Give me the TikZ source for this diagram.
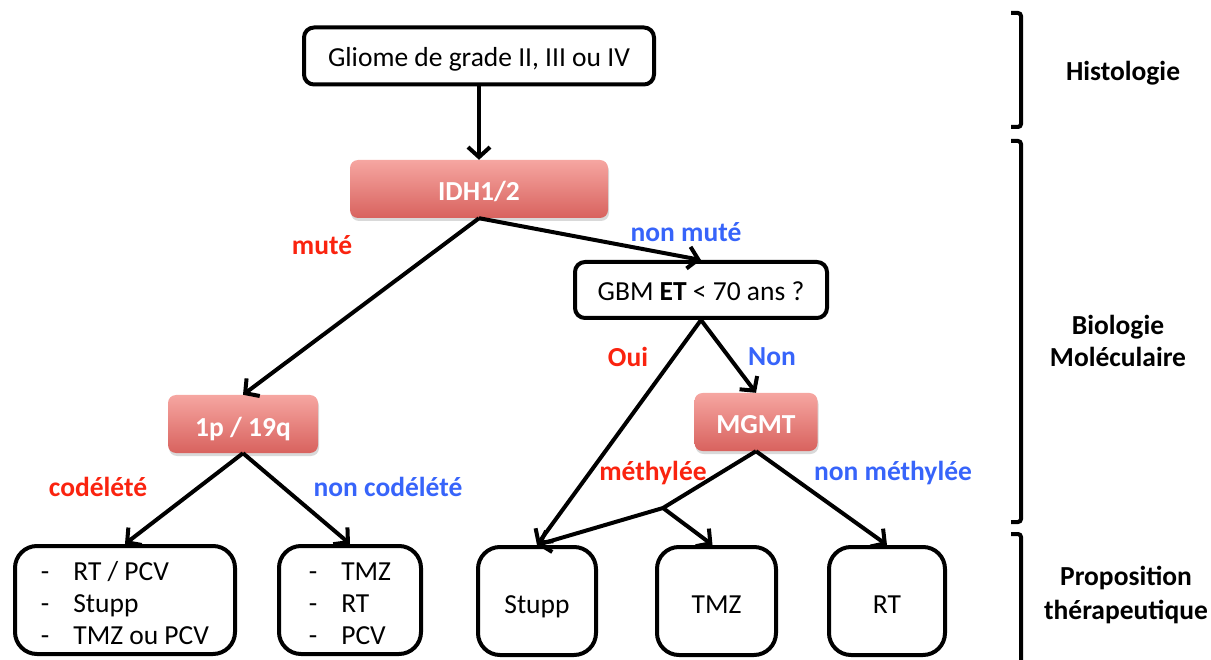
\documentclass[tikz,border=0pt]{standalone}
\usepackage{fontspec}
\setmainfont{Carlito}
\usetikzlibrary{arrows.meta,shadows}
\definecolor{lblred}{RGB}{250,35,15}
\definecolor{lblblue}{RGB}{55,100,250}
\definecolor{pinktop}{RGB}{246,166,161}
\definecolor{pinkbot}{RGB}{216,98,94}
\begin{document}
\begin{tikzpicture}[x=1pt,y=-1pt,
  every node/.style={font=\fontsize{27.5}{32}\selectfont, inner sep=0pt},
  wbox/.style={draw, line width=4pt, rounded corners=10pt, fill=white, text height=22pt, text depth=1pt},
  tbox/.style={draw, line width=4pt, rounded corners=22pt, fill=white, minimum height=108pt},
  sbox/.style={tbox, text height=25pt, text depth=1pt},
  pbox/.style={rounded corners=8pt, top color=pinktop, bottom color=pinkbot, text=white,
    font=\fontsize{27.5}{32}\selectfont\bfseries, text height=24pt, text depth=0pt,
    drop shadow={shadow xshift=1pt, shadow yshift=-3pt, opacity=0.3}, minimum height=58pt},
  conn/.style={line width=4pt, -{Straight Barb[length=10pt,width=22pt]}},
  lred/.style={text=lblred, font=\fontsize{27.5}{32}\selectfont\bfseries},
  lblue/.style={text=lblblue, font=\fontsize{27.5}{32}\selectfont\bfseries},
  side/.style={font=\fontsize{27.5}{32}\selectfont\bfseries, align=center},
  brk/.style={line width=4pt, rounded corners=3pt}
]
\useasboundingbox (0,0) rectangle (1211,660);

% nodes
\node[wbox, minimum width=350pt, minimum height=57pt] (top) at (479,56) {Gliome de grade II, III ou IV};
\node[pbox, minimum width=258pt] (idh) at (479,189) {IDH1/2};
\node[wbox, minimum width=252pt, minimum height=56pt] (gbm) at (701,290) {GBM \textbf{ET} < 70 ans ?};
\node[pbox, minimum width=150pt] (p19) at (243,424) {1p / 19q};
\node[pbox, minimum width=123pt] (mgmt) at (756,422) {MGMT};

\node[tbox, minimum width=220pt] (b1) at (125,600)
  {\raisebox{-6pt}[\height][\depth]{\begin{tabular}{@{}l@{\hspace{24pt}}l@{}}-&RT / PCV\\-&Stupp\\-&TMZ ou PCV\end{tabular}}};
\node[tbox, minimum width=142pt] (b2) at (350,600)
  {\raisebox{-6pt}[\height][\depth]{\begin{tabular}{@{}l@{\hspace{24pt}}l@{}}-&TMZ\\-&RT\\-&PCV\end{tabular}}};
\node[sbox, minimum width=118pt] (stupp) at (537,601) {Stupp};
\node[sbox, minimum width=119pt] (tmz) at (716.5,601) {TMZ};
\node[sbox, minimum width=116pt] (rt) at (887,601) {RT};

\coordinate (j) at (663,508);

% connectors
\draw[conn] (top.south) -- (idh.north);
\draw[conn] (idh.south) -- (p19.north);
\draw[conn] (idh.south) -- (gbm.north);
\draw[conn] (gbm.south) -- (mgmt.north);
\draw[conn] (gbm.south) -- (stupp.north);
\draw[conn, line join=round] (mgmt.south) -- (j) -- (stupp.north);
\draw[conn] (j) -- ([xshift=-4pt]tmz.north);
\draw[conn] (mgmt.south) -- (rt.north);
\draw[conn] (p19.south) -- (b1.north);
\draw[conn] (p19.south) -- (b2.north);

% labels
\node[lred] (lmute) at (322,245) {muté};
\node[lblue] (lnonmute) at (686,232) {non muté};
\node[lred] (loui) at (628,357) {Oui};
\node[lblue] (lnon) at (772,357) {Non};
\node[lred] (lcod) at (98,487) {codélété};
\node[lblue] (lnoncod) at (388,487) {non codélété};
\node[lred] (lmeth) at (653,473) {méthylée};
\node[lblue] (lnonmeth) at (893,473) {non méthylée};

% brackets
\draw[brk] (1011,13) -- (1021,13) -- (1021,127) -- (1011,127);
\draw[brk] (1011,141) -- (1021,141) -- (1021,522) -- (1011,522);
\draw[brk] (1011,534) -- (1021,534) -- (1021,670);

\node[side] (histo) at (1123,73) {Histologie};
\node[side] (bio) at (1118,341) {Biologie\\Moléculaire};
\node[side] (prop) at (1126,595) {Proposition\\[2pt]thérapeutique};
\end{tikzpicture}
\end{document}
